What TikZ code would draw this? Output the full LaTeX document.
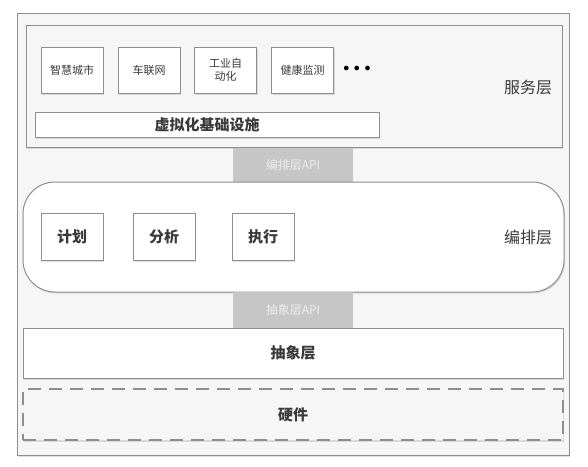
\documentclass[tikz,border=0pt]{standalone}
\usepackage{fontspec}
\newfontfamily\cjk{Noto Sans CJK SC}
\usetikzlibrary{shadows}
\definecolor{linegray}{HTML}{8E8E8E}
\definecolor{textgray}{HTML}{3A3A3A}
\definecolor{apigray}{HTML}{C6C6C6}
\definecolor{apitext}{HTML}{EDEDED}
\definecolor{panel}{HTML}{F6F6F6}
\tikzset{
  boxshadow/.style={drop shadow={opacity=0.25,shadow xshift=1pt,shadow yshift=-1.5pt}},
  appbox/.style={draw=linegray,line width=1pt,fill=white,boxshadow,minimum width=62pt,minimum height=46pt,
    align=center,text=textgray,font=\cjk\fontsize{11}{13}\selectfont},
  taskbox/.style={appbox,minimum height=47pt,font=\cjk\bfseries\fontsize{15}{17}\selectfont},
  layerbox/.style={draw=linegray,line width=1pt,fill=white,boxshadow,minimum width=540pt,
    text=textgray,font=\cjk\bfseries\fontsize{15}{17}\selectfont},
  apibox/.style={fill=apigray,minimum width=120pt,text=apitext,font=\cjk\fontsize{12}{14}\selectfont},
  layername/.style={text=textgray,font=\cjk\fontsize{16}{18}\selectfont}
}
\begin{document}
\begin{tikzpicture}[x=1pt,y=-1pt]
			\useasboundingbox (0, 0) rectangle (588, 466);
			\draw[linegray, line width=1pt, fill=panel, boxshadow] (17, 13) rectangle (569, 455);
			% service layer
			\node[draw=linegray, line width=1pt, fill=panel, boxshadow, minimum width=536pt, minimum height=122pt] (service) at (294, 86) {};
			\node[appbox] (city) at (72, 70) {智慧城市};
			\node[appbox] (car) at (149, 70) {车联网};
			\node[appbox] (industry) at (225.5, 70) {工业自\\动化};
			\node[appbox] (health) at (302.5, 70) {健康监测};
			\node (more) at (357, 69) {\large$\bullet\,\bullet\,\bullet$};
			\node[layername] (servicename) at (528, 87) {服务层};
			\node[layerbox, minimum width=344pt, minimum height=25pt] (virt) at (207, 124.5) {虚拟化基础设施};
			% orchestration layer
			\node[apibox, minimum height=34pt] (orchapi) at (293, 165) {编排层API};
			\node[draw=linegray, line width=1pt, fill=white, boxshadow, rounded corners=32pt, minimum width=541pt, minimum height=110pt] (orch) at (293.5, 237) {};
			\node[taskbox] (plan) at (72, 236.5) {计划};
			\node[taskbox] (analyse) at (164, 236.5) {分析};
			\node[taskbox] (execute) at (263, 236.5) {执行};
			\node[layername] (orchname) at (528, 237) {编排层};
			% abstraction layer
			\node[apibox, minimum height=36pt] (absapi) at (293, 310) {抽象层API};
			\node[layerbox, minimum height=50pt] (abstract) at (293, 353) {抽象层};
			\node[layerbox, fill=panel, drop shadow={opacity=0}, dash pattern=on 13pt off 8pt, line width=1.4pt, minimum height=51pt] (hardware) at (293, 414.5) {硬件};
		\end{tikzpicture}
\end{document}
